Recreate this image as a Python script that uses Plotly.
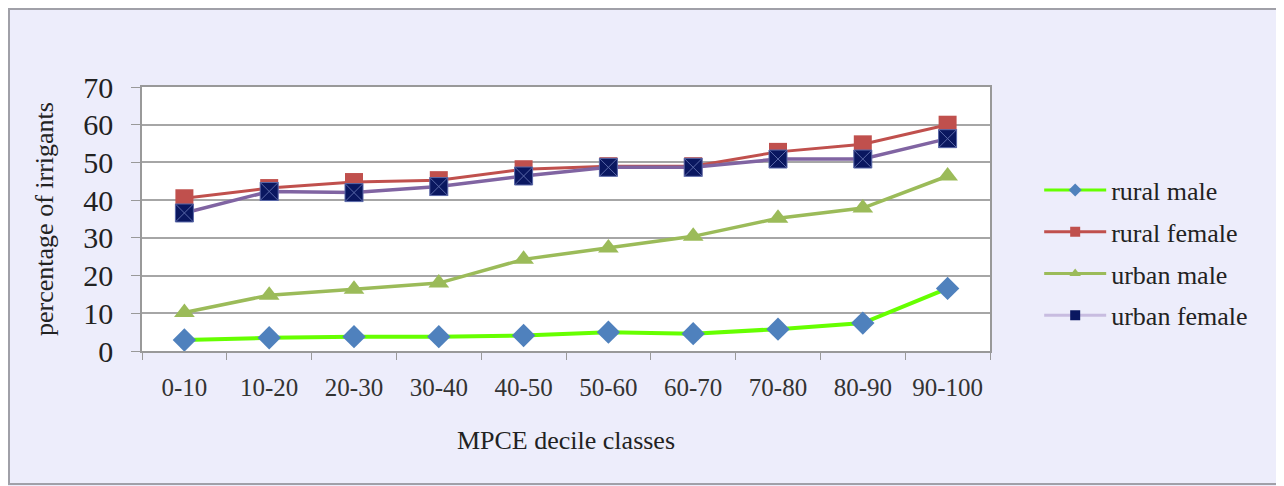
import plotly.graph_objects as go

categories = ["0-10", "10-20", "20-30", "30-40", "40-50", "50-60", "60-70", "70-80", "80-90", "90-100"]
rural_male = [2.9, 3.5, 3.8, 3.8, 4.1, 5.0, 4.6, 5.8, 7.4, 16.6]
rural_female = [40.5, 43.2, 44.8, 45.3, 48.2, 49.0, 49.0, 52.8, 54.8, 60.0]
urban_male = [10.2, 14.8, 16.4, 18.0, 24.3, 27.3, 30.4, 35.2, 37.9, 46.4]
urban_female = [36.6, 42.3, 42.0, 43.6, 46.4, 48.7, 48.7, 50.9, 50.9, 56.3]
y_ticks = [0, 10, 20, 30, 40, 50, 60, 70]
series_names = ["rural male", "rural female", "urban male", "urban female"]

FONT = "Liberation Serif"
BG = "#EDEDFB"

styles = [
    dict(line=dict(color="#66FF00", width=4), symbol="diamond", mcolor="#4F81BD", mline=None),
    dict(line=dict(color="#C0504D", width=3), symbol="square", mcolor="#C0504D", mline=None),
    dict(line=dict(color="#9BBB59", width=3.5), symbol="triangle-up", mcolor="#9BBB59", mline=None),
    dict(line=dict(color="#8064A2", width=3.5), symbol="square-x", mcolor="#0A1760",
         mline=dict(color="#5A68A8", width=1)),
]
legend_line_colors = ["#66FF00", "#C0504D", "#9BBB59", "#C8BCE0"]
values = [rural_male, rural_female, urban_male, urban_female]

fig = go.Figure()
for name, vals, st in zip(series_names, values, styles):
    mk = dict(symbol=st["symbol"], size=18, color=st["mcolor"])
    if st["mline"]:
        mk["line"] = st["mline"]
    fig.add_trace(go.Scatter(x=categories, y=vals, name=name, mode="lines+markers",
                             line=st["line"], marker=mk, showlegend=False))
# legend entries with small markers like the original
for i, (name, st) in enumerate(zip(series_names, styles)):
    mk = dict(symbol=st["symbol"].replace("-x", ""), size=10, color=st["mcolor"])
    fig.add_trace(go.Scatter(x=[None], y=[None], name=name, mode="lines+markers",
                             line=dict(color=legend_line_colors[i], width=3), marker=mk,
                             legendgroup=name, showlegend=True))

W, H = 1276, 478
L, T = 134, 79
PW, PH = 848, 264

fig.update_layout(
    width=W, height=H,
    paper_bgcolor=BG, plot_bgcolor="white",
    margin=dict(l=L, r=W - L - PW, t=T, b=H - T - PH),
    font=dict(family=FONT, color="#222222"),
    showlegend=True,
    legend=dict(x=1.058, y=0.371, xanchor="left", yanchor="middle", bgcolor="rgba(0,0,0,0)",
                font=dict(family=FONT, size=26, color="#222222"), itemwidth=62,
                tracegroupgap=5),
    xaxis=dict(type="category", tickson="boundaries", ticks="outside", ticklen=7, tickcolor="#999999",
               showline=True, linecolor="#999999", linewidth=1.5, mirror=True, showgrid=False,
               tickfont=dict(family=FONT, size=25, color="#333333"), ticklabelstandoff=13,
               title=dict(text="MPCE decile classes", font=dict(family=FONT, size=26, color="#222222"),
                          standoff=31),
               range=[-0.5, 9.5]),
    yaxis=dict(range=[0, 70], tickvals=y_ticks, ticks="outside", ticklen=9, tickcolor="#999999",
               showline=True, linecolor="#999999", linewidth=1.5, mirror=True,
               showgrid=True, gridcolor="#A6A6A6", gridwidth=1.5, zeroline=False,
               tickfont=dict(family=FONT, size=30, color="#222222"), ticklabelstandoff=12,
               title=dict(text="percentage of irrigants", font=dict(family=FONT, size=26, color="#222222"),
                          standoff=22)),
    shapes=[dict(type="rect", xref="paper", yref="paper",
                 x0=(1 - L) / PW, x1=(W - 2 - L) / PW, y0=(T + PH - (H - 2)) / PH, y1=(T + PH - 1) / PH,
                 line=dict(color="#A0A0A8", width=2))],
)

fig.write_html("out.html")
